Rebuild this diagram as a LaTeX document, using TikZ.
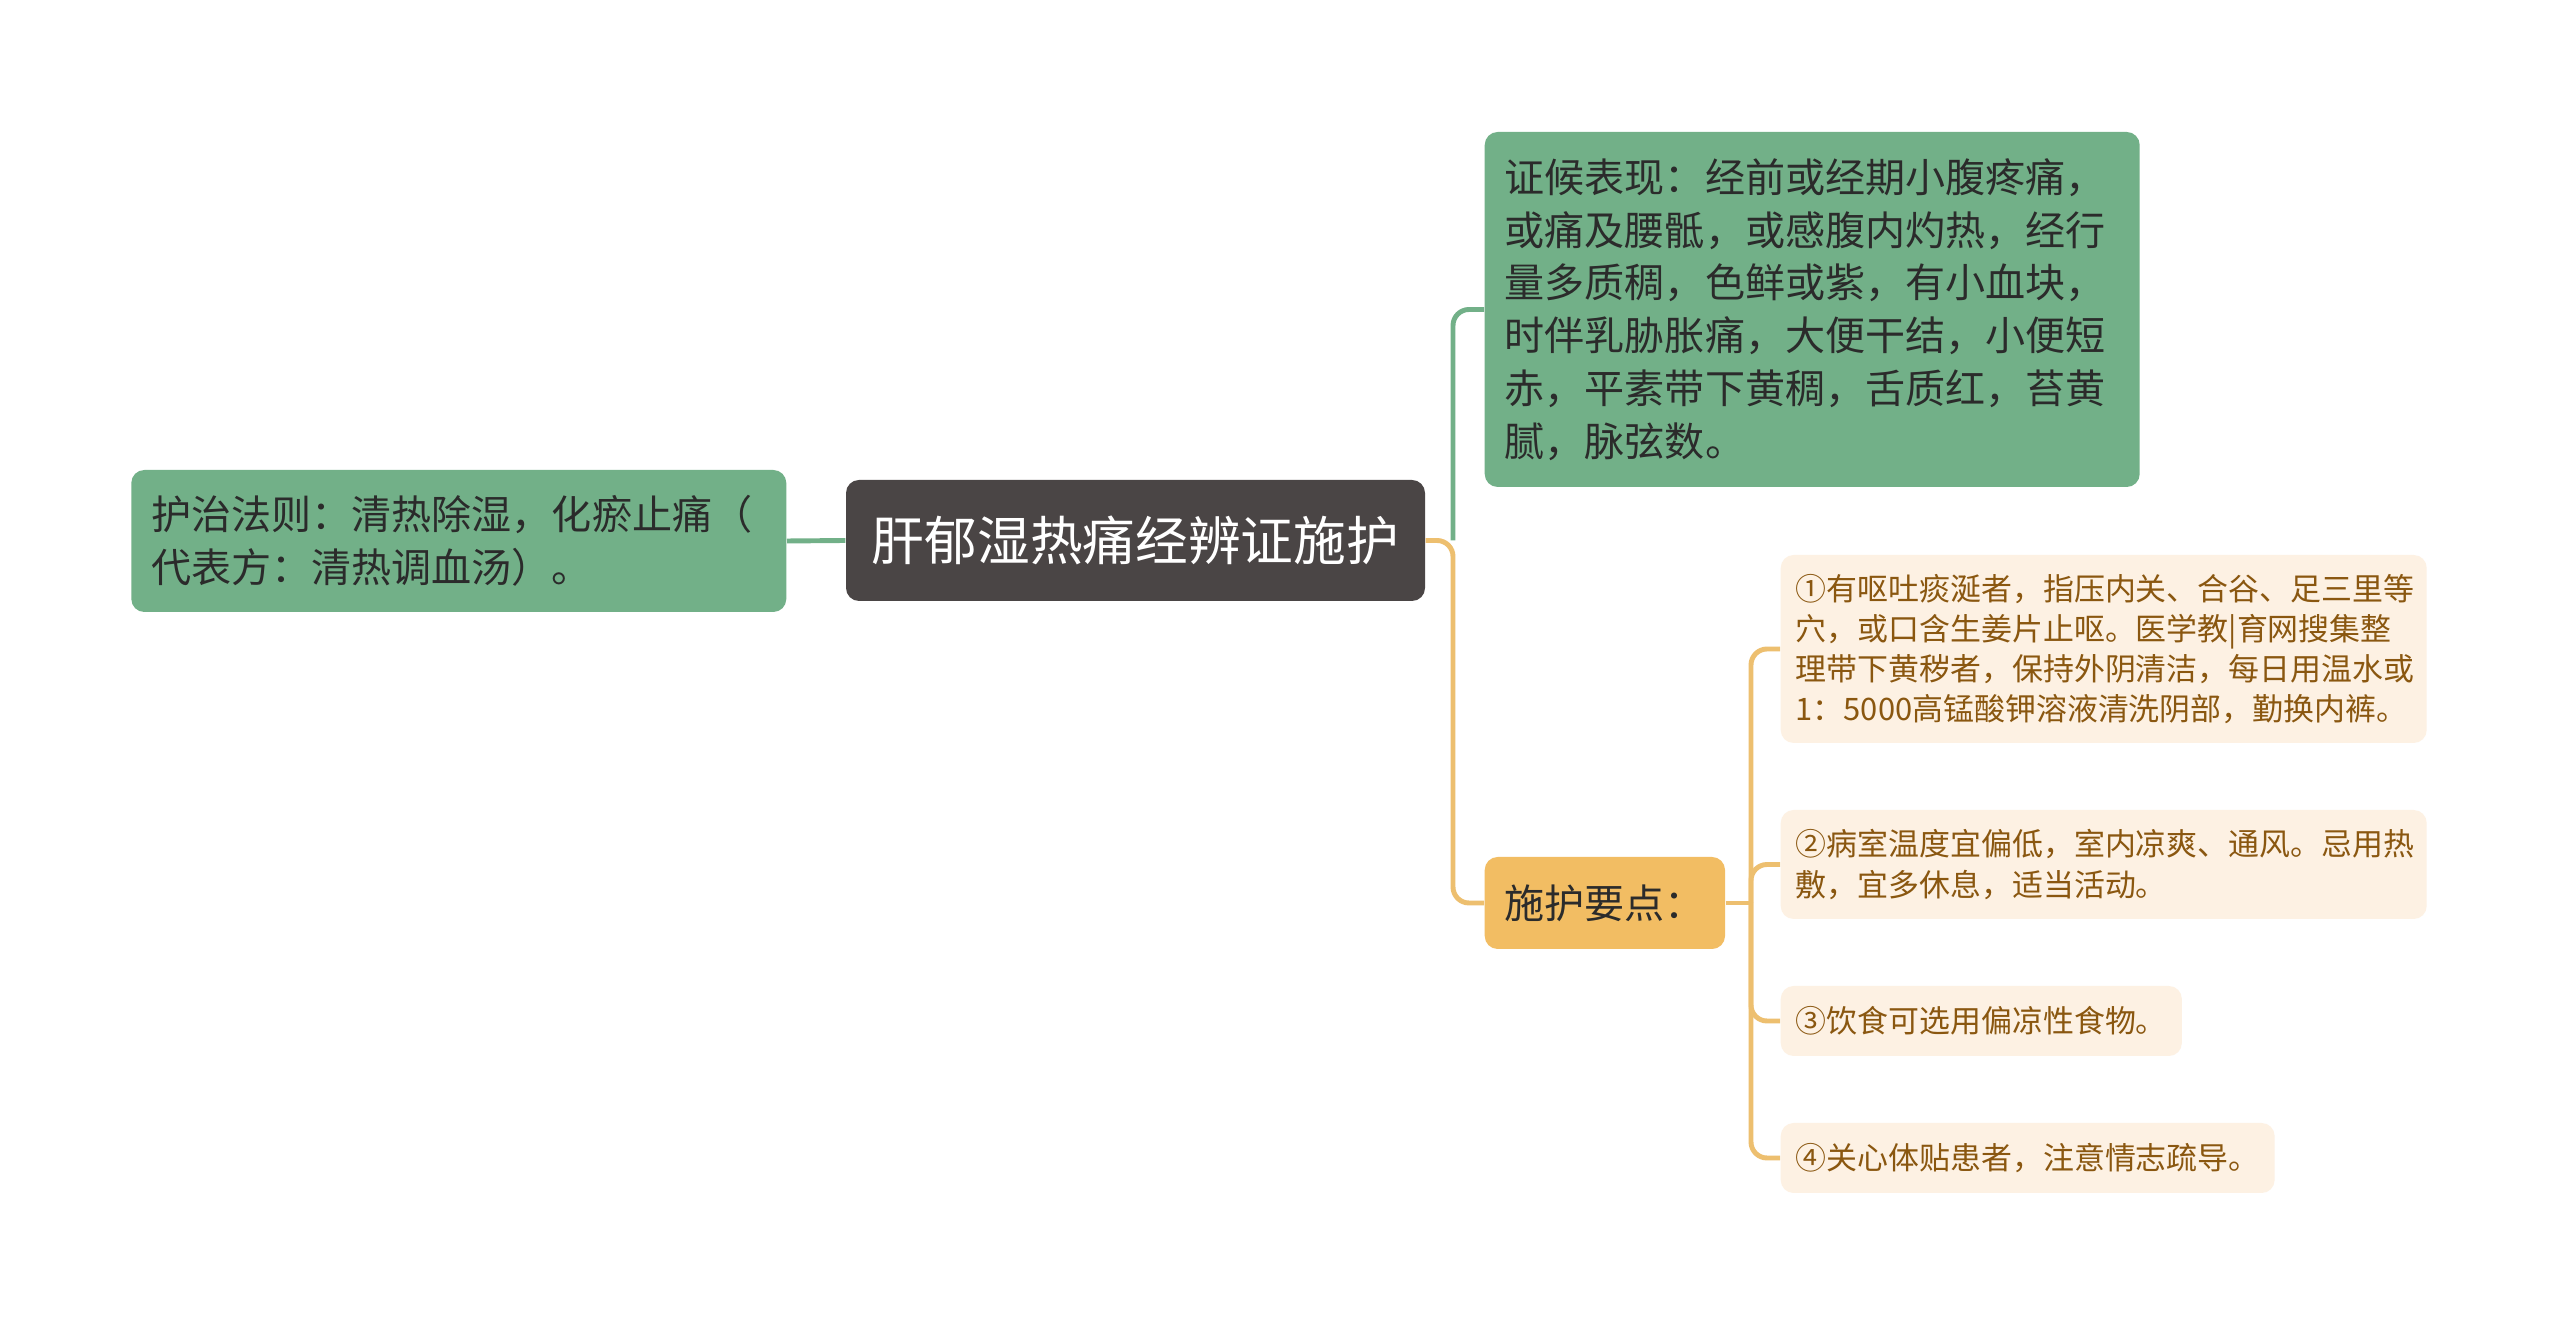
\documentclass[tikz,border=0pt]{standalone}
\usepackage{fontspec}
\setmainfont{Noto Sans CJK SC}
\definecolor{rootgray}{HTML}{4A4545}
\definecolor{nodegreen}{HTML}{72B088}
\definecolor{textdark}{HTML}{2B2B2B}
\definecolor{nodeorange}{HTML}{F2BD63}
\definecolor{lineorange}{HTML}{EDBF6F}
\definecolor{leafcream}{HTML}{FDF1E3}
\definecolor{leafbrown}{HTML}{8A5710}
\begin{document}
\begin{tikzpicture}[x=1cm, y=-1cm,
  box/.style={rectangle, rounded corners=0.13cm, inner xsep=0.2cm, inner ysep=0pt, align=left},
  rootbox/.style={box, fill=rootgray, text=white, align=center,
    font=\fontsize{15pt}{18pt}\selectfont, minimum width=5.79cm, minimum height=1.21cm},
  greenbox/.style={box, fill=nodegreen, text=textdark, font=\fontsize{11.4pt}{15pt}\selectfont},
  carebox/.style={box, fill=nodeorange, text=textdark, font=\fontsize{11.4pt}{15pt}\selectfont,
    minimum width=2.37cm, minimum height=0.92cm},
  leafbox/.style={box, fill=leafcream, text=leafbrown, inner xsep=0.15cm,
    font=\fontsize{8.8pt}{11.4pt}\selectfont, minimum height=0.7cm},
  greenline/.style={draw=nodegreen, line width=1.4pt, rounded corners=0.16cm},
  orangeline/.style={draw=lineorange, line width=1.4pt, rounded corners=0.16cm}]
\useasboundingbox[fill=white] (0,0) rectangle (25.6,13.26);

% Main topic and the rule of treatment
\node[rootbox] (root) at (11.355,5.405) {肝郁湿热痛经辨证施护};
\node[greenbox, anchor=east, text width=6.15cm, minimum height=1.42cm] (rule) at (7.87,5.41)
  {护治法则：清热除湿，化瘀止痛（\\代表方：清热调血汤）。};

% Right branches
\node[greenbox, anchor=west, text width=6.15cm, minimum height=3.55cm] (sign) at (14.84,3.095)
  {证候表现：经前或经期小腹疼痛，\\或痛及腰骶，或感腹内灼热，经行\\量多质稠，色鲜或紫，有小血块，\\时伴乳胁胀痛，大便干结，小便短\\赤，平素带下黄稠，舌质红，苔黄\\腻，脉弦数。};
\node[carebox, anchor=west] (care) at (14.84,9.03) {施护要点：};

% Nursing points
\node[leafbox, anchor=west, text width=6.16cm, minimum height=1.88cm] (care1) at (17.80,6.49)
  {①有呕吐痰涎者，指压内关、合谷、足三里等\\穴，或口含生姜片止呕。医学教|育网搜集整\\理带下黄秽者，保持外阴清洁，每日用温水或\\1：5000高锰酸钾溶液清洗阴部，勤换内裤。};
\node[leafbox, anchor=west, text width=6.16cm, minimum height=1.09cm] (care2) at (17.80,8.645)
  {②病室温度宜偏低，室内凉爽、通风。忌用热\\敷，宜多休息，适当活动。};
\node[leafbox, anchor=west] (care3) at (17.80,10.21) {③饮食可选用偏凉性食物。};
\node[leafbox, anchor=west] (care4) at (17.80,11.58) {④关心体贴患者，注意情志疏导。};

% Connectors
\coordinate (hub) at (14.53,5.405);
\coordinate (carehub) at (17.51,9.03);
\draw[greenline] (root.west) -- (rule.east);
\draw[greenline] (hub) |- (sign.west);
\draw[orangeline] (root.east) -- (hub) |- (care.west);
\draw[orangeline] (care.east) -- (carehub);
\foreach \leaf in {care1,care2,care3,care4}
  \draw[orangeline] (carehub) |- (\leaf.west);
\end{tikzpicture}
\end{document}
